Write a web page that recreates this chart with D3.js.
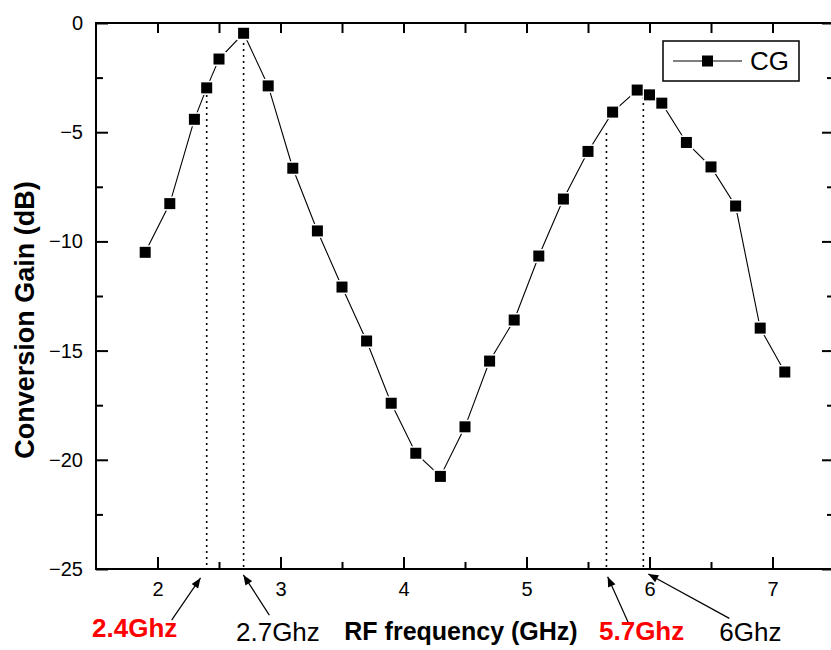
<!doctype html>
<html>
<head>
<meta charset="utf8">
<title>Conversion Gain</title>
<script src="https://cdn.jsdelivr.net/npm/d3@7/dist/d3.min.js"></script>
<style>
    body { margin: 0; background: white; }
    svg { display: block; font-family: Arial, "Liberation Sans", sans-serif; }
</style>
</head>
<body>
<div id="chart"></div>
<script>
"use strict";
// measured data (GHz, dB)
const freq = [1.9, 2.1, 2.3, 2.4, 2.5, 2.7, 2.9, 3.1, 3.3, 3.5, 3.7, 3.9, 4.1, 4.3, 4.5,
              4.7, 4.9, 5.1, 5.3, 5.5, 5.7, 5.9, 6.0, 6.1, 6.3, 6.5, 6.7, 6.9, 7.1];
const gain = [-10.5, -8.27, -4.41, -2.97, -1.65, -0.47, -2.88, -6.65, -9.52, -12.09, -14.56, -17.41, -19.7, -20.76, -18.49,
              -15.48, -13.6, -10.67, -8.06, -5.88, -4.08, -3.07, -3.29, -3.67, -5.47, -6.59, -8.38, -13.97, -15.98];

const xMajor = [2, 3, 4, 5, 6, 7];
const xMinor = [2.5, 3.5, 4.5, 5.5, 6.5, 7.5];
const yMajor = [0, -5, -10, -15, -20, -25];
const yMinor = [-2.5, -7.5, -12.5, -17.5, -22.5];

// dotted guides: x position and top end (dB)
const guideX = [2.4, 2.7, 5.65, 5.95];
const guideTop = [-3.3, -0.64, -5.04, -3.39];

// annotations below the axis (data units)
const annText = ["2.4Ghz", "2.7Ghz", "5.7Ghz", "6Ghz"];
const annRed = [true, false, true, false];
const annTextX = [1.815, 2.979, 5.936, 6.82];
const annTextY = [-28.11, -28.3, -28.25, -28.28];
const annFrom = [[2.115, -27.34], [2.909, -27.11], [5.828, -27.46], [6.649, -27.26]];
const annTo = [[2.35, -25.41], [2.698, -25.27], [5.66, -25.35], [5.99, -25.23]];

const W = 831, H = 650;
const svg = d3.select("#chart").append("svg").attr("width", W).attr("height", H);

const x = d3.scaleLinear().domain([1.5, 7.5]).range([96, 834]);
const y = d3.scaleLinear().domain([-25, 0]).range([569, 23]);

// arrowhead
svg.append("defs").append("marker")
    .attr("id", "arrow")
    .attr("markerUnits", "userSpaceOnUse")
    .attr("viewBox", "0 0 10 8")
    .attr("refX", 10).attr("refY", 4)
    .attr("markerWidth", 11).attr("markerHeight", 8)
    .attr("orient", "auto")
    .append("path").attr("d", "M0,0L10,4L0,8Z").attr("fill", "black");

// dotted guides
svg.append("g").selectAll("line")
    .data(guideX)
    .enter().append("line")
    .attr("x1", d => x(d)).attr("x2", d => x(d))
    .attr("y1", (d, i) => y(guideTop[i])).attr("y2", y(-25))
    .attr("stroke", "black").attr("stroke-width", 1.6)
    .attr("stroke-dasharray", "2,4");

// series line
const pts = freq.map((f, i) => [f, gain[i]]);
svg.append("path")
    .datum(pts)
    .attr("fill", "none").attr("stroke", "black").attr("stroke-width", 1.1)
    .attr("d", d3.line().x(d => x(d[0])).y(d => y(d[1])));

// markers with a small white halo like Origin
const mk = svg.append("g");
mk.selectAll("rect.halo").data(pts).enter().append("rect").attr("class", "halo")
    .attr("x", d => x(d[0]) - 7).attr("y", d => y(d[1]) - 7)
    .attr("width", 14).attr("height", 14).attr("fill", "white");
mk.selectAll("rect.sq").data(pts).enter().append("rect").attr("class", "sq")
    .attr("x", d => x(d[0]) - 5.5).attr("y", d => y(d[1]) - 5.5)
    .attr("width", 11).attr("height", 11).attr("fill", "black");

// axes
function styleAxis(g) {
    g.select(".domain").remove();
    g.selectAll("line").attr("stroke", "black").attr("stroke-width", 2);
    g.selectAll("text").attr("font-size", 20).attr("fill", "black")
        .attr("font-family", "Arial, 'Liberation Sans', sans-serif");
}

svg.append("g").attr("transform", `translate(0,${y(-25)})`)
    .call(d3.axisBottom(x).tickValues(xMajor).tickSize(-12).tickPadding(13).tickFormat(d3.format("d")))
    .call(styleAxis);
svg.append("g").attr("transform", `translate(0,${y(-25)})`)
    .call(d3.axisBottom(x).tickValues(xMinor).tickSize(-7).tickFormat(""))
    .call(styleAxis);
svg.append("g").attr("transform", `translate(0,${y(0)})`)
    .call(d3.axisTop(x).tickValues(xMajor.concat(xMinor)).tickSize(-10).tickFormat(""))
    .call(styleAxis);

svg.append("g").attr("transform", `translate(${x(1.5)},0)`)
    .call(d3.axisLeft(y).tickValues(yMajor).tickSize(-12).tickPadding(13).tickFormat(d3.format("d")))
    .call(styleAxis);
svg.append("g").attr("transform", `translate(${x(1.5)},0)`)
    .call(d3.axisLeft(y).tickValues(yMinor).tickSize(-7).tickFormat(""))
    .call(styleAxis);
svg.append("g").attr("transform", `translate(${x(7.5)},0)`)
    .call(d3.axisRight(y).tickValues(yMajor).tickSize(-12).tickFormat(""))
    .call(styleAxis);
svg.append("g").attr("transform", `translate(${x(7.5)},0)`)
    .call(d3.axisRight(y).tickValues(yMinor).tickSize(-7).tickFormat(""))
    .call(styleAxis);

// frame
svg.append("rect")
    .attr("x", x(1.5)).attr("y", y(0))
    .attr("width", x(7.5) - x(1.5)).attr("height", y(-25) - y(0))
    .attr("fill", "none").attr("stroke", "black").attr("stroke-width", 2);

// axis titles
svg.append("text")
    .attr("x", 461).attr("y", 640)
    .attr("text-anchor", "middle").attr("font-size", 25).attr("font-weight", "bold")
    .text("RF frequency (GHz)");
svg.append("text")
    .attr("transform", `translate(34,${(y(0) + y(-25)) / 2 + 24}) rotate(-90)`)
    .attr("text-anchor", "middle").attr("font-size", 27).attr("font-weight", "bold")
    .text("Conversion Gain (dB)");

// legend
const lg = svg.append("g");
lg.append("rect").attr("x", 663).attr("y", 41).attr("width", 136).attr("height", 40)
    .attr("fill", "white").attr("stroke", "black").attr("stroke-width", 1.5);
lg.append("line").attr("x1", 673).attr("x2", 742).attr("y1", 61).attr("y2", 61)
    .attr("stroke", "black").attr("stroke-width", 1);
lg.append("rect").attr("x", 702).attr("y", 55.5).attr("width", 11).attr("height", 11).attr("fill", "black");
lg.append("text").attr("x", 750).attr("y", 70).attr("font-size", 26).text("CG");

// annotations
const an = svg.append("g");
an.selectAll("line").data(annText).enter().append("line")
    .attr("x1", (d, i) => x(annFrom[i][0])).attr("y1", (d, i) => y(annFrom[i][1]))
    .attr("x2", (d, i) => x(annTo[i][0])).attr("y2", (d, i) => y(annTo[i][1]))
    .attr("stroke", "black").attr("stroke-width", 1.2)
    .attr("marker-end", "url(#arrow)");
an.selectAll("text").data(annText).enter().append("text")
    .attr("x", (d, i) => x(annTextX[i])).attr("y", (d, i) => y(annTextY[i]))
    .attr("text-anchor", "middle").attr("font-size", 26)
    .attr("font-weight", (d, i) => annRed[i] ? "bold" : "normal")
    .attr("fill", (d, i) => annRed[i] ? "#ff0000" : "black")
    .text(d => d);
</script>
</body>
</html>
